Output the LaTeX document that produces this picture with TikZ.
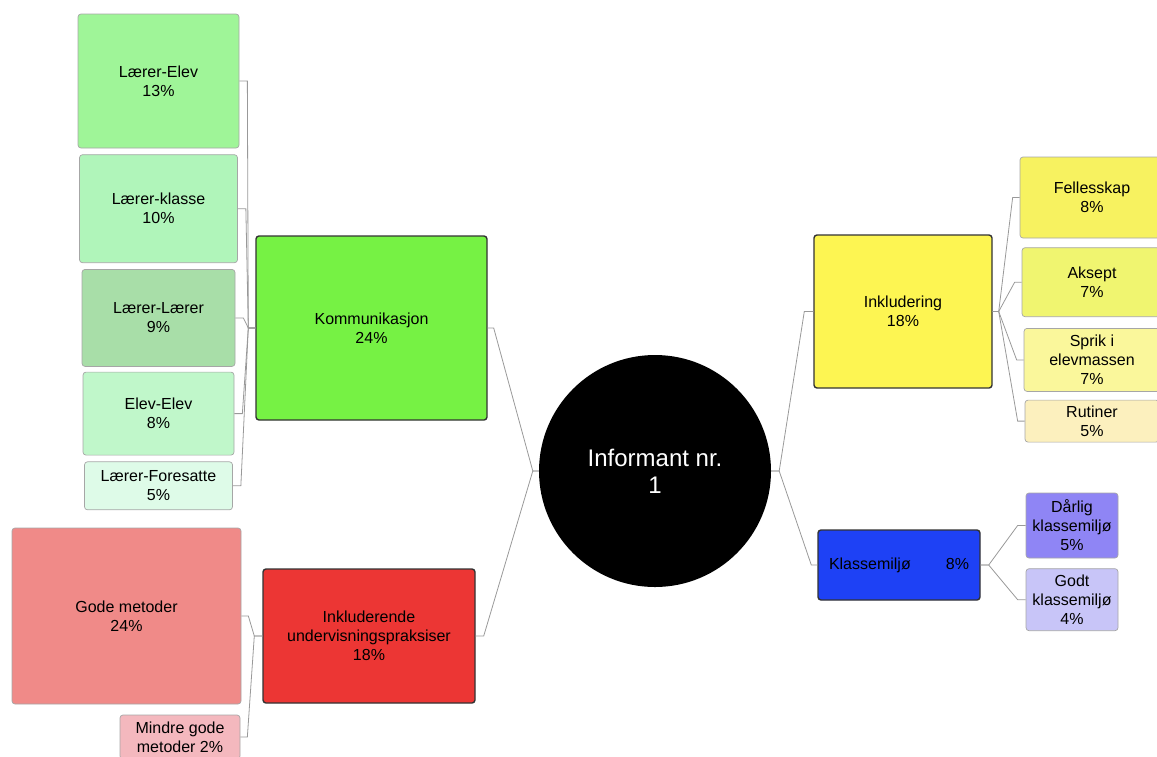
\documentclass[tikz,border=0pt]{standalone}
\usepackage{fontspec}
\setmainfont{Liberation Sans}
\usetikzlibrary{positioning}
\definecolor{kommfill}{HTML}{76F244}
\definecolor{lefill}{HTML}{9FF598}
\definecolor{lkfill}{HTML}{B0F5BA}
\definecolor{llfill}{HTML}{A8DEA8}
\definecolor{eefill}{HTML}{C0F7CA}
\definecolor{lffill}{HTML}{DEFBE8}
\definecolor{inclfill}{HTML}{EC3634}
\definecolor{gmfill}{HTML}{F08A88}
\definecolor{mgfill}{HTML}{F4B8BE}
\definecolor{inkfill}{HTML}{FDF552}
\definecolor{felfill}{HTML}{F7F260}
\definecolor{aksfill}{HTML}{F0F570}
\definecolor{sprfill}{HTML}{FAF79B}
\definecolor{rutfill}{HTML}{FCF0BE}
\definecolor{klmfill}{HTML}{1E41F5}
\definecolor{darfill}{HTML}{8F85F5}
\definecolor{godfill}{HTML}{C8C5F8}

\begin{document}
\begin{tikzpicture}[
    x=1pt, y=-1pt,
    hub/.style={circle, fill=black, minimum size=232pt, inner sep=0pt, align=center, text=white, font=\fontsize{24}{27}\selectfont},
    topic/.style={rectangle, draw=black!80, line width=1.4pt, rounded corners=3pt, align=center, inner sep=3pt, font=\fontsize{16}{19}\selectfont},
    leaf/.style={rectangle, draw=black!35, line width=0.7pt, rounded corners=3pt, align=center, inner sep=3pt, font=\fontsize{16}{19}\selectfont},
    link/.style={draw=black!40, line width=0.8pt}
]
    \useasboundingbox (0,0) rectangle (1157,756);

    \node[hub] (info) at (655,471) {Informant nr.\\1};

    \node[topic, fill=kommfill, minimum width=231pt, minimum height=184pt] (komm) at (371.5,328) {Kommunikasjon\\24\%};
    \node[topic, fill=inclfill, minimum width=212pt, minimum height=134pt] (incl) at (369,636) {Inkluderende\\undervisningspraksiser\\18\%};
    \node[topic, fill=inkfill, minimum width=178pt, minimum height=153pt] (ink) at (903,311.5) {Inkludering\\18\%};
    \node[topic, fill=klmfill, minimum width=162pt, minimum height=70pt] (klm) at (899,565) {\makebox[140pt]{Klassemiljø\hfill 8\%}};

    \node[leaf, fill=lefill, minimum width=161pt, minimum height=134pt] (le) at (158.5,81) {Lærer-Elev\\13\%};
    \node[leaf, fill=lkfill, minimum width=158pt, minimum height=108pt] (lk) [below=6pt of le] {Lærer-klasse\\10\%};
    \node[leaf, fill=llfill, minimum width=153pt, minimum height=97pt] (ll) [below=6pt of lk] {Lærer-Lærer\\9\%};
    \node[leaf, fill=eefill, minimum width=151pt, minimum height=83pt] (ee) [below=5pt of ll] {Elev-Elev\\8\%};
    \node[leaf, fill=lffill, minimum width=148pt, minimum height=48pt] (lf) [below=6pt of ee] {Lærer-Foresatte\\5\%};

    \node[leaf, fill=gmfill, minimum width=229pt, minimum height=176pt] (gm) at (126.5,616) {Gode metoder\\24\%};
    \node[leaf, fill=mgfill, minimum width=120pt, minimum height=44pt] (mg) at (180,737) {Mindre gode\\metoder 2\%};

    \node[leaf, fill=felfill, minimum width=144pt, minimum height=81pt] (fel) at (1092,197.5) {Fellesskap\\8\%};
    \node[leaf, fill=aksfill, minimum width=140pt, minimum height=69pt] (aks) [below=9pt of fel] {Aksept\\7\%};
    \node[leaf, fill=sprfill, minimum width=136pt, minimum height=63pt] (spr) [below=11pt of aks] {Sprik i\\elevmassen\\7\%};
    \node[leaf, fill=rutfill, minimum width=134pt, minimum height=42pt] (rut) [below=8pt of spr] {Rutiner\\5\%};

    \node[leaf, fill=darfill, minimum width=92pt, minimum height=65pt] (dar) at (1072,525.5) {Dårlig\\klassemiljø\\5\%};
    \node[leaf, fill=godfill, minimum width=92pt, minimum height=62pt] (god) [below=10pt of dar] {Godt\\klassemiljø\\4\%};

    \draw[link] (info.west) -- ++(-6pt,0) -- ([xshift=6pt]komm.east) -- (komm.east);
    \draw[link] (info.west) -- ++(-6pt,0) -- ([xshift=8pt]incl.east) -- (incl.east);
    \draw[link] (info.east) -- ++(8pt,0) -- ([xshift=-9pt]ink.west) -- (ink.west);
    \draw[link] (info.east) -- ++(8pt,0) -- ([xshift=-6pt]klm.west) -- (klm.west);

    \foreach \n in {le,lk,ll,ee,lf}
        \draw[link] (\n.east) -- ++(8pt,0) -- ([xshift=-7pt]komm.west) -- (komm.west);
    \foreach \n in {gm,mg}
        \draw[link] (\n.east) -- ++(7pt,0) -- ([xshift=-8pt]incl.west) -- (incl.west);
    \foreach \n in {fel,aks,spr,rut}
        \draw[link] (ink.east) -- ++(6pt,0) -- ([xshift=-7pt]\n.west) -- (\n.west);
    \foreach \n in {dar,god}
        \draw[link] (klm.east) -- ++(8pt,0) -- ([xshift=-8pt]\n.west) -- (\n.west);
\end{tikzpicture}
\end{document}
